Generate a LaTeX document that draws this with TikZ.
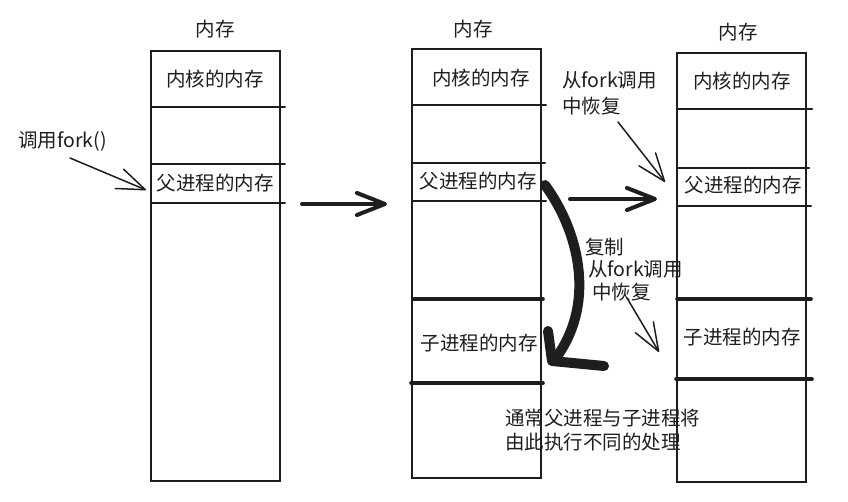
\documentclass[tikz,border=0pt]{standalone}
\usepackage{fontspec}
\setmainfont{Noto Sans CJK SC}
\usetikzlibrary{arrows.meta}
\definecolor{ink}{HTML}{1E1E1E}
\tikzset{
  column/.style={draw=ink, line width=2pt, minimum width=129pt, inner sep=0pt},
  divider/.style={draw=ink, line width=2pt, line cap=round},
  heavydivider/.style={draw=ink, line width=3.6pt, line cap=round},
  label/.style={text=ink, inner sep=0pt, font=\fontsize{19.5}{24}\selectfont},
  note/.style={label, anchor=west},
  bigarrow/.style={draw=ink, line width=4pt, line cap=round,
    -{Straight Barb[length=28pt, width=22pt, line width=4pt, round]}},
  thinarrow/.style={draw=ink, line width=1.5pt, line cap=round,
    -{Straight Barb[length=28pt, width=21pt, line width=1.5pt, round]}},
  copystroke/.style={draw=ink, line width=10pt, line cap=round, line join=round},
}
\begin{document}
\begin{tikzpicture}[x=1pt, y=-1pt]
\useasboundingbox (0,0) rectangle (848,502);

% ---- memory before fork ----
\node[column, minimum height=430pt] (colA) at (215.5,266) {};
\draw[divider] (151,107) -- (285,107);
\draw[divider] (151,164) -- (285,164);
\draw[divider] (151,203) -- (285,203);
\node[label] (titleA)  at (215,29)  {内存};
\node[label] (kernelA) at (215,79)  {内核的内存};
\node[label] (parentA) at (215,183) {父进程的内存};

% ---- memory right after the copy ----
\node[column, minimum height=429pt] (colB) at (476.5,263.5) {};
\draw[divider] (412,105) -- (546,105);
\draw[divider] (412,163) -- (545,163);
\draw[divider] (412,201) -- (546,201);
\draw[heavydivider] (413,299) -- (543,299);
\draw[heavydivider] (411,383) -- (543,383);
\node[label] (titleB)  at (473,29)  {内存};
\node[label] (kernelB) at (481,78)  {内核的内存};
\node[label] (parentB) at (478,181) {父进程的内存};
\node[label] (childB)  at (479,343) {子进程的内存};

% ---- memory when both processes resume ----
\node[column, minimum height=429pt] (colC) at (741.5,267.5) {};
\draw[divider] (677,109) -- (812,109);
\draw[divider] (677,168) -- (809,168);
\draw[divider] (677,206) -- (811,206);
\draw[heavydivider] (677,299) -- (811,299);
\draw[heavydivider] (676,379) -- (812,379);
\node[label] (titleC)  at (738,32)  {内存};
\node[label] (kernelC) at (742,81)  {内核的内存};
\node[label] (parentC) at (743,185) {父进程的内存};
\node[label] (childC)  at (742,337) {子进程的内存};

% ---- notes ----
\node[note] (callfork) at (18,141) {调用fork()};
\node[note] (resumeP1) at (562,80)  {从fork调用};
\node[note] (resumeP2) at (562,106) {中恢复};
\node[note] (copy)     at (585,247) {复制};
\node[note] (resumeC1) at (588,269) {从fork调用};
\node[note] (resumeC2) at (592,292) {中恢复};
\node[note] (diverge1) at (505,418) {通常父进程与子进程将};
\node[note] (diverge2) at (505,442) {由此执行不同的处理};

% ---- connector end points ----
\coordinate (callS)   at (70,158);
\coordinate (callE)   at (146,190);
\coordinate (stepAS)  at (302,204);
\coordinate (stepAE)  at (387,204);
\coordinate (stepBS)  at (570,199);
\coordinate (stepBE)  at (657,199);
\coordinate (resPS)   at (618,122);
\coordinate (resPE)   at (665,182);
\coordinate (resCS)   at (627,298);
\coordinate (resCE)   at (659,352);
\coordinate (copyS)   at (545,185);
\coordinate (copyE)   at (558,355);
\coordinate (barbTop) at (548,331);
\coordinate (barbBot) at (552,361);
\coordinate (barbEnd) at (604,366);

% ---- connectors ----
\draw[thinarrow] (callS) -- (callE);
\draw[bigarrow] (stepAS) -- (stepAE);
\draw[bigarrow] (stepBS) -- (stepBE);
\draw[thinarrow] (resPS) -- (resPE);
\draw[thinarrow] (resCS) -- (resCE);

% heavy hand-drawn copy arrow
\draw[copystroke] (copyS) .. controls (578,230) and (596,300) .. (copyE);
\draw[copystroke] (barbTop) -- (barbBot) -- (barbEnd);
\end{tikzpicture}
\end{document}
